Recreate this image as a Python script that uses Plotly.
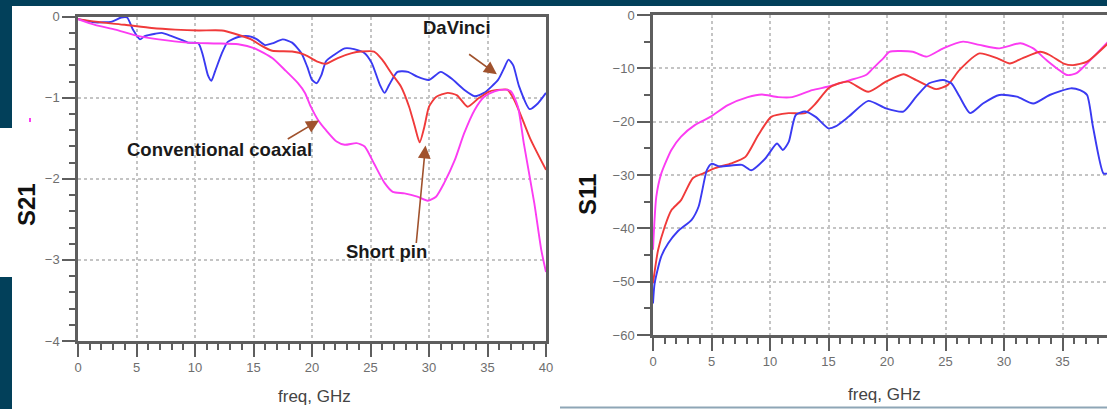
import plotly.graph_objects as go

# ---------------- data: S21 (left chart) ----------------
s21_davinci_f = [0, 1.45, 2.9, 3.7, 4.2, 4.7, 5.3, 5.7, 6.6, 7.15, 8.0, 8.9, 9.4, 10.3, 10.7, 11.1, 11.4, 11.7,
                 12.3, 12.8, 13.7, 14.6, 15.3, 16.0, 16.6, 17.5, 18.3, 19.1, 19.6, 20.0, 20.4, 20.8, 21.2, 21.9,
                 22.8, 23.6, 24.5, 25.1, 25.8, 26.2, 26.6, 27.3, 28.2, 29.0, 30.0, 31.0, 31.9, 33.0, 33.9, 34.7,
                 35.9, 36.4, 36.8, 37.2, 37.7, 38.6, 39.3, 40.0]
s21_davinci_v = [-0.03, -0.07, -0.06, -0.01, -0.01, -0.16, -0.28, -0.24, -0.21, -0.20, -0.24, -0.29, -0.32, -0.33,
                 -0.49, -0.72, -0.79, -0.68, -0.45, -0.31, -0.25, -0.24, -0.28, -0.35, -0.33, -0.28, -0.32, -0.45,
                 -0.62, -0.78, -0.82, -0.72, -0.55, -0.47, -0.39, -0.40, -0.45, -0.57, -0.84, -0.94, -0.84, -0.68,
                 -0.68, -0.74, -0.78, -0.68, -0.76, -0.90, -0.98, -0.94, -0.78, -0.64, -0.53, -0.60, -0.86, -1.14,
                 -1.07, -0.94]

s21_short_f = [0, 2.0, 4.0, 6.3, 8.3, 10.3, 12.3, 13.4, 14.8, 15.7, 16.6, 18.3, 19.4, 20.4, 21.2, 22.2, 23.4, 24.2,
               25.3, 26.0, 26.8, 27.6, 28.3, 28.8, 29.2, 29.6, 30.0, 30.6, 31.6, 32.4, 33.3, 34.2, 35.2, 36.2, 36.7,
               37.3, 38.0, 38.7, 40.0]
s21_short_v = [-0.03, -0.07, -0.10, -0.14, -0.16, -0.17, -0.17, -0.21, -0.28, -0.36, -0.42, -0.43, -0.47, -0.55,
               -0.58, -0.51, -0.45, -0.43, -0.43, -0.53, -0.70, -0.86, -1.11, -1.36, -1.55, -1.36, -1.11, -0.99,
               -0.94, -0.97, -1.11, -1.01, -0.92, -0.90, -0.90, -1.03, -1.27, -1.52, -1.89]

s21_coax_f = [0, 1.45, 3.2, 4.9, 6.9, 9.4, 11.7, 13.7, 15.1, 16.6, 17.7, 18.8, 19.4, 19.9, 20.5, 21.2, 22.1, 22.8,
              23.8, 24.5, 25.3, 26.2, 26.9, 27.9, 29.0, 29.9, 30.6, 31.3, 32.2, 33.0, 33.9, 34.7, 35.6, 36.4, 37.0,
              37.6, 38.1, 39.0, 39.6, 40.0]
s21_coax_v = [-0.03, -0.10, -0.16, -0.23, -0.28, -0.32, -0.33, -0.34, -0.39, -0.51, -0.66, -0.82, -0.94, -1.11,
              -1.27, -1.40, -1.54, -1.58, -1.56, -1.60, -1.81, -2.05, -2.16, -2.18, -2.22, -2.27, -2.22, -2.05,
              -1.77, -1.44, -1.15, -0.99, -0.92, -0.90, -0.92, -1.11, -1.56, -2.30, -2.88, -3.15]

# ---------------- data: S11 (right chart) ----------------
s11_coax_f = [0, 0.28, 0.71, 1.57, 2.4, 3.6, 4.9, 6.4, 8.1, 9.3, 10.7, 11.9, 13.6, 15.0, 16.7, 18.2, 18.8, 19.7,
              20.2, 22.2, 23.4, 24.8, 26.5, 27.9, 29.6, 31.4, 32.5, 33.6, 35.4, 36.2, 37.4, 38.9]
s11_coax_v = [-44, -34.1, -29.7, -25.3, -22.8, -20.6, -19.1, -16.9, -15.4, -14.9, -15.4, -15.4, -14.1, -13.4,
              -12.3, -11.25, -10.0, -8.1, -6.9, -6.9, -7.8, -6.25, -5.0, -5.6, -6.25, -5.3, -6.25, -8.4, -11.25,
              -10.9, -8.4, -5.0]

s11_short_f = [0, 0.43, 1.0, 1.57, 2.4, 3.4, 4.3, 5.3, 6.7, 7.9, 9.0, 10.1, 11.6, 13.0, 13.9, 15.0, 15.9, 16.7,
               18.4, 19.9, 21.4, 22.5, 24.2, 25.2, 26.2, 27.9, 29.4, 30.5, 31.6, 33.1, 33.9, 35.1, 35.9, 37.1, 38.9]
s11_short_v = [-50.3, -44.1, -39.7, -36.6, -34.7, -30.6, -29.7, -28.7, -27.8, -26.6, -22.5, -19.1, -18.4, -18.4,
               -16.6, -13.75, -12.8, -12.5, -14.4, -12.5, -11.1, -12.2, -13.9, -13.1, -10.3, -7.2, -8.1, -9.1,
               -8.1, -6.9, -7.5, -9.1, -9.4, -8.75, -5.3]

s11_davinci_f = [0, 0.14, 0.7, 1.3, 2.1, 3.3, 3.9, 4.6, 5.0, 5.7, 7.6, 8.4, 9.6, 10.6, 11.1, 11.6, 12.2, 13.0,
                 13.9, 15.0, 15.6, 16.7, 18.4, 19.9, 21.4, 22.5, 23.6, 24.8, 25.5, 26.2, 27.1, 28.2, 29.6, 31.1,
                 32.5, 33.9, 35.7, 36.5, 37.1, 37.6, 38.5, 38.9]
s11_davinci_v = [-54.1, -50.3, -45.3, -42.8, -40.6, -38.4, -35.9, -29.1, -27.9, -28.4, -28.1, -29.1, -26.9, -24.1,
                 -25.3, -23.8, -18.75, -18.1, -19.1, -21.25, -20.9, -19.1, -16.1, -17.5, -18.1, -15.3, -12.8,
                 -12.2, -12.8, -15.3, -18.4, -16.6, -15.0, -15.3, -16.6, -15.0, -13.75, -14.1, -15.0, -20.9,
                 -29.7, -29.7]

x_ticks_left = [0, 5, 10, 15, 20, 25, 30, 35, 40]
y_ticks_left = [0, -1, -2, -3, -4]
x_ticks_right = [0, 5, 10, 15, 20, 25, 30, 35]
y_ticks_right = [0, -10, -20, -30, -40, -50, -60]

BLUE = "#3a3af2"
RED = "#f03a3a"
MAG = "#fb3cf2"
TEAL = "#02405a"
AX = "#5e5e5e"
GRID = "#c4c4c4"
ARROW = "#a0522d"

W, H = 1107, 409

fig = go.Figure()
line_w = 1.9
def ln(c):
    return dict(color=c, width=line_w, shape="spline", smoothing=0.6)

fig.add_trace(go.Scatter(x=s21_davinci_f, y=s21_davinci_v, mode="lines", line=ln(BLUE),
                         xaxis="x", yaxis="y", name="DaVinci"))
fig.add_trace(go.Scatter(x=s21_short_f, y=s21_short_v, mode="lines", line=ln(RED),
                         xaxis="x", yaxis="y", name="Short pin"))
fig.add_trace(go.Scatter(x=s21_coax_f, y=s21_coax_v, mode="lines", line=ln(MAG),
                         xaxis="x", yaxis="y", name="Conventional coaxial"))
fig.add_trace(go.Scatter(x=s11_coax_f, y=s11_coax_v, mode="lines", line=ln(MAG),
                         xaxis="x2", yaxis="y2", name="Conventional coaxial"))
fig.add_trace(go.Scatter(x=s11_short_f, y=s11_short_v, mode="lines", line=ln(RED),
                         xaxis="x2", yaxis="y2", name="Short pin"))
fig.add_trace(go.Scatter(x=s11_davinci_f, y=s11_davinci_v, mode="lines", line=ln(BLUE),
                         xaxis="x2", yaxis="y2", name="DaVinci"))

tickfont = dict(family="Liberation Sans, Arial, sans-serif", size=13, color="#6e6e6e")

def xax(domain, rng, ticks, anchor, mirror):
    return dict(domain=domain, range=rng, tickvals=ticks, anchor=anchor, showline=True, linecolor=AX,
                linewidth=2.5, mirror=mirror, ticks="outside", ticklen=13, tickwidth=2, tickcolor=AX,
                showgrid=True, gridcolor=GRID, griddash="dot", gridwidth=1.5, zeroline=False,
                tickfont=tickfont, automargin=False,
                minor=dict(dtick=1, ticks="outside", ticklen=6, tickwidth=1.5, tickcolor=AX, showgrid=False))

def yax(domain, rng, ticks, anchor, mirror, mdt):
    return dict(domain=domain, range=rng, tickvals=ticks, anchor=anchor, showline=True, linecolor=AX,
                linewidth=2.5, mirror=mirror, ticks="outside", ticklen=13, tickwidth=2, tickcolor=AX,
                showgrid=True, gridcolor=GRID, griddash="dot", gridwidth=1.5, zeroline=False,
                tickfont=tickfont, automargin=False,
                minor=dict(dtick=mdt, ticks="outside", ticklen=6, tickwidth=1.5, tickcolor=AX, showgrid=False))

L_x0, L_x1 = 78, 546
L_y0, L_y1 = 16.7, 341
R_x0 = 653
R_y0, R_y1 = 15, 335
px_per_ghz = (L_x1 - L_x0) / 40.0
r_max = (W - R_x0) / px_per_ghz

fig.update_layout(
    width=W, height=H, margin=dict(l=0, r=0, t=0, b=0),
    paper_bgcolor="white", plot_bgcolor="white", showlegend=False,
    xaxis=xax([L_x0 / W, L_x1 / W], [0, 40], x_ticks_left, "y", True),
    yaxis=yax([1 - L_y1 / H, 1 - L_y0 / H], [-4, 0], y_ticks_left, "x", True, 0.2),
    xaxis2=xax([R_x0 / W, 1.0], [0, r_max], x_ticks_right, "y2", True),
    yaxis2=yax([1 - R_y1 / H, 1 - R_y0 / H], [-60, 0], y_ticks_right, "x2", False, 5),
)

# slide decorations (paper coordinates)
deco = [
    dict(x0=0, x1=1, y0=1 - 6 / H, y1=1),
    dict(x0=0, x1=12 / W, y0=1 - 128 / H, y1=1),
    dict(x0=0, x1=12 / W, y0=0, y1=1 - 277 / H),
]
for d in deco:
    fig.add_shape(type="rect", xref="paper", yref="paper", fillcolor=TEAL, line=dict(width=0), layer="above", **d)
fig.add_shape(type="line", xref="paper", yref="paper", x0=560 / W, x1=1, y0=1.5 / H, y1=1.5 / H,
              line=dict(color="#8ea6b6", width=2))
fig.add_shape(type="line", xref="paper", yref="paper", x0=30 / W, x1=30 / W, y0=1 - 118 / H, y1=1 - 122 / H,
              line=dict(color=MAG, width=2))

# axis titles
title_font = dict(family="Liberation Sans, Arial, sans-serif", size=24, color="#111111")
xt_font = dict(family="Liberation Sans, Arial, sans-serif", size=17, color="#444444")
fig.add_annotation(text="<b>S21</b>", xref="paper", yref="paper", x=26 / W, y=1 - 205 / H, showarrow=False,
                   textangle=-90, font=title_font, xanchor="center", yanchor="middle")
fig.add_annotation(text="<b>S11</b>", xref="paper", yref="paper", x=588 / W, y=1 - 195 / H, showarrow=False,
                   textangle=-90, font=title_font, xanchor="center", yanchor="middle")
fig.add_annotation(text="freq, GHz", xref="paper", yref="paper", x=314 / W, y=1 - 396 / H, showarrow=False,
                   font=xt_font, xanchor="center", yanchor="middle")
fig.add_annotation(text="freq, GHz", xref="paper", yref="paper", x=884 / W, y=1 - 394 / H, showarrow=False,
                   font=xt_font, xanchor="center", yanchor="middle")

# curve labels
lab_font = dict(family="Liberation Sans, Arial, sans-serif", size=18.5, color="#1a1a1a")
labels = [("DaVinci", 32.4, -0.13), ("Conventional coaxial", 12.1, -1.64), ("Short pin", 26.4, -2.90)]
for t, lx, ly in labels:
    fig.add_annotation(text="<b>" + t + "</b>", x=lx, y=ly, xref="x", yref="y", showarrow=False,
                       font=lab_font, xanchor="center", yanchor="middle")

arrows = [(35.8, -0.71, 33.3, -0.45), (20.6, -1.28, 17.8, -1.52), (29.7, -1.59, 28.9, -2.81)]
for hx, hy, tx, ty in arrows:
    fig.add_annotation(text="", x=hx, y=hy, ax=tx, ay=ty, xref="x", yref="y", axref="x", ayref="y",
                       showarrow=True, arrowhead=2, arrowsize=1.6, arrowwidth=1.6, arrowcolor=ARROW, standoff=0)

fig.write_html("out.html")
